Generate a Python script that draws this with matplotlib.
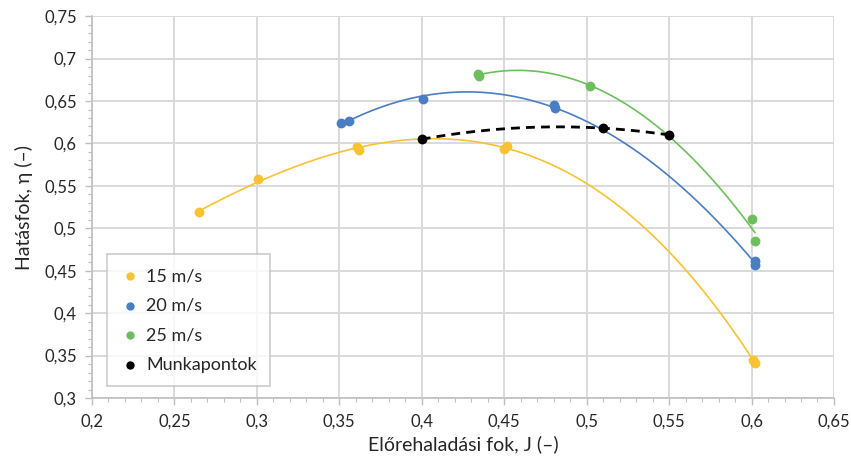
import numpy as np
import matplotlib
matplotlib.use("Agg")
import matplotlib.pyplot as plt
from matplotlib.ticker import MultipleLocator, FuncFormatter

plt.rcParams['font.family'] = ['Lato', 'DejaVu Sans']

# measured points (J, eta)
j15 = [0.265, 0.301, 0.361, 0.362, 0.450, 0.452, 0.601, 0.602]
e15 = [0.519, 0.558, 0.596, 0.592, 0.593, 0.597, 0.345, 0.341]

j20 = [0.351, 0.356, 0.401, 0.480, 0.481, 0.602, 0.602]
e20 = [0.624, 0.627, 0.652, 0.645, 0.642, 0.461, 0.457]

j25 = [0.434, 0.435, 0.502, 0.600, 0.602]
e25 = [0.682, 0.680, 0.668, 0.511, 0.485]

jm = [0.400, 0.510, 0.550]
em = [0.605, 0.618, 0.610]

# name, x, y, colour, trendline order
series = [
    ("15 m/s", j15, e15, "#F9C232", 3),
    ("20 m/s", j20, e20, "#4A7EC3", 2),
    ("25 m/s", j25, e25, "#6DBE5C", 2),
]

fig = plt.figure(figsize=(8.51, 4.62), dpi=100)
ax = fig.add_axes([0.108, 0.1385, 0.872, 0.8265])

handles = []
for name, x, y, c, order in series:
    # excel style polynomial trendline
    p = np.polyfit(x, y, order)
    xs = np.linspace(min(x), max(x), 200)
    ax.plot(xs, np.polyval(p, xs), color=c, lw=1.2, zorder=3)
    h = ax.scatter(x, y, s=50, color=c, zorder=4, label=name, linewidths=0)
    handles.append(h)

p = np.polyfit(jm, em, 2)
xs = np.linspace(min(jm), max(jm), 200)
ax.plot(xs, np.polyval(p, xs), color="black", lw=2.0, dashes=(3.2, 2.2), zorder=5)
h = ax.scatter(jm, em, s=50, color="black", zorder=6, label="Munkapontok", linewidths=0)
handles.append(h)

ax.set_xlim(0.2, 0.65)
ax.set_ylim(0.3, 0.75)
ax.xaxis.set_major_locator(MultipleLocator(0.05))
ax.yaxis.set_major_locator(MultipleLocator(0.05))
ax.xaxis.set_minor_locator(MultipleLocator(0.01))
ax.yaxis.set_minor_locator(MultipleLocator(0.01))

fmt = FuncFormatter(lambda v, pos: ("%.2f" % v).rstrip("0").rstrip(".").replace(".", ","))
ax.xaxis.set_major_formatter(fmt)
ax.yaxis.set_major_formatter(fmt)

ax.grid(True, which="major", color="#D9D9D9", lw=1.4, zorder=0)
ax.set_axisbelow(True)
for s in ["top", "right"]:
    ax.spines[s].set_visible(False)
for s in ["left", "bottom"]:
    ax.spines[s].set_color("#BFBFBF")
    ax.spines[s].set_linewidth(1.2)

ax.tick_params(which="major", length=5, color="#BFBFBF", width=1.0,
               labelsize=12, labelcolor="#262626", pad=6)
ax.tick_params(which="minor", length=3, color="#BFBFBF", width=0.8)

ax.set_xlabel("Előrehaladási fok, J (–)", fontsize=14, color="#262626", labelpad=4)
ax.set_ylabel("Hatásfok, η (–)", fontsize=14, color="#262626", labelpad=8)

leg = ax.legend(handles=handles, loc="lower left", bbox_to_anchor=(0.021, 0.031),
                borderaxespad=0, fontsize=13, frameon=True, fancybox=False,
                edgecolor="#BFBFBF", handlelength=1.0, handletextpad=0.4,
                labelspacing=0.75, borderpad=0.75, scatterpoints=1,
                markerscale=0.85)
leg.get_frame().set_linewidth(1.2)
for t in leg.get_texts():
    t.set_color("#262626")

fig.savefig("out.png", dpi=100)
